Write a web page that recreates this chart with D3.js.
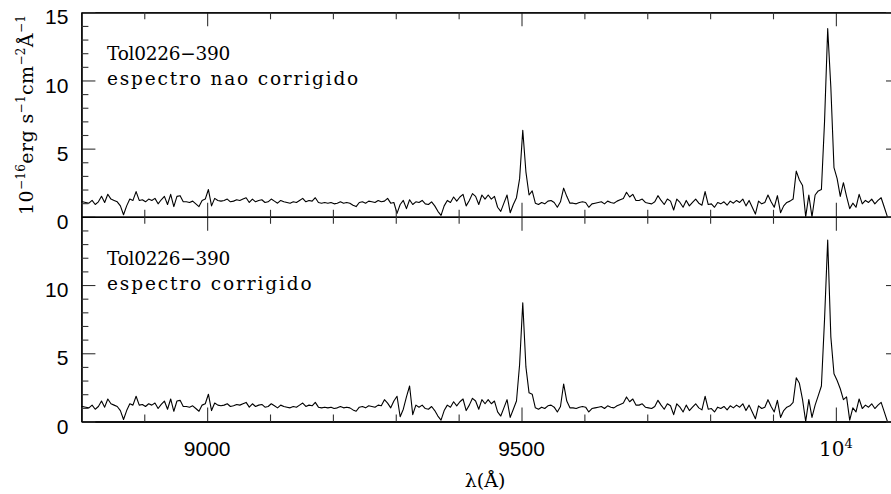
<!DOCTYPE html>
<html><head><meta charset="utf-8">
<script src="https://cdn.jsdelivr.net/npm/d3@7"></script>
<style>body{margin:0;background:#fff;} svg{display:block;}</style>
</head><body><svg id="chart" width="891" height="494"></svg>
<script>
// ---- data ----
const lambdaStart = 8797;   // Å, first sample
const lambdaStep = 5;       // Å between samples
const fluxCorrected = [
1.1,1.1,1.05,1.0,1.2,0.9,1.1,1.5,1.05,1.65,
1.3,1.2,1.1,0.8,0.15,0.8,1.3,1.2,1.85,1.2,
1.25,1.1,1.3,1.2,1.35,0.95,1.25,1.5,0.9,1.65,
0.75,1.5,1.55,1.1,1.1,1.05,1.15,0.95,0.75,1.2,
1.3,2.0,0.8,1.35,1.2,1.15,1.2,1.3,1.1,1.15,
1.25,1.2,1.3,1.4,1.05,1.3,1.1,1.2,1.25,1.05,
1.1,1.3,1.15,1.0,1.2,1.1,1.05,1.0,1.1,1.05,
1.2,1.35,1.1,1.2,1.15,1.4,1.05,1.0,1.05,1.0,
1.05,0.95,1.0,1.1,1.0,1.05,1.0,0.85,0.75,1.05,
1.1,1.0,1.15,1.1,1.05,1.2,1.15,1.6,1.35,1.0,
1.5,1.85,0.35,0.9,1.8,2.6,0.5,1.2,1.05,1.2,
0.95,0.9,1.1,0.8,0.4,0.1,0.8,1.2,1.05,1.45,
1.15,1.45,1.65,0.8,1.2,1.7,1.5,0.9,1.6,1.3,
1.6,1.3,1.5,0.7,0.4,1.0,1.6,0.3,0.9,1.5,
4.2,8.7,4.0,2.1,2.0,1.0,0.9,1.05,0.95,1.15,
1.2,1.05,0.7,1.1,2.75,1.5,1.0,1.0,0.95,1.05,
1.1,1.05,0.7,0.95,1.0,1.05,1.1,0.95,1.15,1.05,
1.0,1.15,1.25,1.35,1.8,1.45,1.65,1.2,1.2,1.3,
1.05,1.0,0.95,1.1,1.55,1.2,0.9,1.3,1.15,0.5,
1.3,1.05,0.7,1.2,0.8,1.05,1.3,1.0,0.85,1.85,
0.9,0.95,0.7,1.05,0.95,1.1,0.85,1.15,1.0,1.2,
1.05,1.3,0.8,1.2,0.7,0.2,1.15,0.95,1.05,1.6,
1.1,0.7,1.55,0.3,0.8,1.05,1.15,1.4,3.2,2.8,
1.6,0.0,1.6,0.3,1.2,1.9,2.6,7.5,13.3,6.2,
3.5,3.0,2.4,1.6,1.8,0.1,1.0,0.7,1.65,0.95,
1.2,1.05,1.3,0.95,1.2,1.4,0.7,0.0
];
const fluxUncorrected = [
1.1,1.1,1.05,1.0,1.2,0.9,1.1,1.5,1.05,1.65,
1.3,1.2,1.1,0.8,0.15,0.8,1.3,1.2,1.85,1.2,
1.25,1.1,1.3,1.2,1.35,0.95,1.25,1.5,0.9,1.65,
0.75,1.5,1.55,1.1,1.1,1.05,1.15,0.95,0.75,1.2,
1.3,2.0,0.8,1.35,1.2,1.15,1.2,1.3,1.1,1.15,
1.25,1.2,1.3,1.4,1.05,1.3,1.1,1.2,1.25,1.05,
1.1,1.3,1.15,1.0,1.2,1.1,1.05,1.0,1.1,1.05,
1.2,1.35,1.1,1.2,1.15,1.4,1.05,1.0,1.05,1.0,
1.05,0.95,1.0,1.1,1.0,1.05,1.0,0.85,0.75,1.05,
1.1,1.0,1.15,1.1,1.05,1.2,1.1,1.15,1.35,1.0,
1.05,0.25,0.9,1.2,0.6,1.25,0.9,1.1,1.05,1.2,
0.95,0.9,1.1,0.8,0.4,0.1,0.8,1.2,1.05,1.45,
1.15,1.45,1.65,0.8,1.2,1.7,1.5,0.9,1.6,1.3,
1.6,1.3,1.5,0.7,0.4,1.0,1.6,0.3,0.9,1.4,
2.8,6.35,3.3,1.6,1.9,1.0,0.9,1.05,0.95,1.15,
1.2,1.05,0.7,1.1,2.1,1.5,1.0,1.0,0.95,1.05,
1.1,1.05,0.7,0.95,1.0,1.05,1.1,0.95,1.15,1.05,
1.0,1.15,1.25,1.35,1.8,1.45,1.65,1.2,1.2,1.3,
1.05,1.0,0.95,1.1,1.55,1.2,0.9,1.3,1.15,0.5,
1.3,1.05,0.7,1.2,0.8,1.05,1.3,1.0,0.85,1.85,
0.9,0.95,0.7,1.05,0.95,1.1,0.85,1.15,1.0,1.2,
1.05,1.3,0.8,1.2,0.7,0.2,1.15,0.95,1.05,1.6,
1.1,0.7,1.55,0.3,0.8,1.05,1.15,1.3,3.35,2.7,
2.3,0.0,1.6,0.0,1.6,1.9,2.0,7.0,13.8,9.5,
3.6,2.8,1.5,2.5,1.5,0.6,1.0,0.7,1.65,0.95,
1.2,1.05,1.3,0.95,1.2,1.4,0.7,0.0
];
const panelTitles = [
  ["Tol0226\u2212390", "espectro nao corrigido"],
  ["Tol0226\u2212390", "espectro corrigido"]
];
const xMajorTicks = [9000, 9500, 10000];
const xTickLabels = ["9000", "9500", "10^4"];
const yMajorTicks = [0, 5, 10, 15];
const yTickLabelsTop = ["0", "5", "10", "15"];
const yTickLabelsBottom = ["0", "5", "10"];

// ---- layout ----
const svg = d3.select("#chart");
const X0 = 81.4, X1 = 900;
const yTop = 12.3, yMid = 216.8, yBot = 421.5;
const x = d3.scaleLinear().domain([8800, 10102]).range([X0, X1]);
const panels = [
  {flux: fluxUncorrected, y: d3.scaleLinear().domain([0, 15]).range([yMid, yTop]), labels: yTickLabelsTop, title: panelTitles[0]},
  {flux: fluxCorrected,   y: d3.scaleLinear().domain([0, 15]).range([yBot, yMid]), labels: yTickLabelsBottom, title: panelTitles[1]}
];
const xMinor = d3.range(8900, 10101, 100).filter(v => !xMajorTicks.includes(v));
const yMinor = d3.range(1, 15, 1).filter(v => !yMajorTicks.includes(v));
const sans = "'Liberation Sans', Arial, Helvetica, sans-serif";
const serif = "'DejaVu Serif', serif";
const charWidth = 11.63; // px per character of the panel captions

svg.append("defs").selectAll("clipPath").data(panels).join("clipPath")
  .attr("id", (d, i) => "clip" + i)
  .append("rect")
  .attr("x", X0).attr("width", X1 - X0)
  .attr("y", d => d.y.range()[1]).attr("height", d => d.y.range()[0] - d.y.range()[1]);

const line = (p) => d3.line()
  .x((d, i) => x(lambdaStart + i * lambdaStep))
  .y(d => p.y(d));

function styleAxis(g) {
  g.selectAll(".domain").attr("stroke", "#000").attr("stroke-width", 1.3);
  g.selectAll(".tick line").attr("stroke", "#333").attr("stroke-width", 1.1);
}

panels.forEach((p, pi) => {
  const yb = p.y.range()[0], yt = p.y.range()[1];
  svg.append("path").datum(p.flux)
    .attr("clip-path", `url(#clip${pi})`)
    .attr("fill", "none").attr("stroke", "#000").attr("stroke-width", 1.1)
    .attr("stroke-linejoin", "round")
    .attr("d", line(p));

  [[d3.axisTop, yb], [d3.axisBottom, yt]].forEach(([ax, yy]) => {
    svg.append("g").attr("transform", `translate(0,${yy})`)
      .call(ax(x).tickValues(xMajorTicks).tickSize(14).tickSizeOuter(0).tickFormat(""))
      .call(styleAxis);
    svg.append("g").attr("transform", `translate(0,${yy})`)
      .call(ax(x).tickValues(xMinor).tickSize(7).tickSizeOuter(0).tickFormat(""))
      .call(styleAxis);
  });
  const majors = yMajorTicks.slice(0, p.labels.length);
  svg.append("g").attr("transform", `translate(${X0},0)`)
    .call(d3.axisLeft(p.y).tickValues(majors).tickSizeInner(-14).tickSizeOuter(0).tickPadding(13)
      .tickFormat((d, i) => p.labels[i]))
    .call(styleAxis)
    .call(g => g.selectAll("text").attr("fill", "#000").style("font-family", sans).style("font-size", "21px").attr("dy", "0.55em"));
  svg.append("g").attr("transform", `translate(${X0},0)`)
    .call(d3.axisLeft(p.y).tickValues(yMinor).tickSizeInner(-7).tickSizeOuter(0).tickFormat(""))
    .call(styleAxis);
  svg.append("g").attr("transform", `translate(${X1},0)`)
    .call(d3.axisLeft(p.y).tickValues(yMajorTicks).tickSize(14).tickSizeOuter(0).tickFormat(""))
    .call(styleAxis);
  svg.append("g").attr("transform", `translate(${X1},0)`)
    .call(d3.axisLeft(p.y).tickValues(yMinor).tickSize(7).tickSizeOuter(0).tickFormat(""))
    .call(styleAxis);

  const tg = svg.append("g").style("font-family", serif).style("font-size", "18.5px").attr("fill", "#000");
  p.title.forEach((t, k) => {
    tg.append("text").attr("x", 107).attr("y", yt + 48 + k * 25)
      .attr("textLength", (t.length - 0.4) * charWidth).attr("lengthAdjust", "spacing")
      .text(t);
  });
});

const xl = svg.append("g");
xMajorTicks.forEach((v, i) => {
  const lab = xTickLabels[i];
  if (lab.includes("^")) {
    const [base, sup] = lab.split("^");
    const t = xl.append("text").attr("x", x(v)).attr("y", 456).attr("text-anchor", "middle")
      .style("font-family", serif).style("font-size", "20px");
    t.append("tspan").text(base);
    t.append("tspan").attr("dy", -8).style("font-size", "13px").text(sup);
  } else {
    xl.append("text").attr("x", x(v)).attr("y", 456).attr("text-anchor", "middle")
      .style("font-family", sans).style("font-size", "21px").text(lab);
  }
});

svg.append("text").attr("x", 485).attr("y", 487).attr("text-anchor", "middle")
  .style("font-family", serif).style("font-size", "19px").text("\u03bb(\u00c5)");

const yl = svg.append("text").attr("transform", "translate(33,115) rotate(-90)")
  .attr("text-anchor", "middle").style("font-family", serif).style("font-size", "19px")
  .attr("textLength", 200).attr("lengthAdjust", "spacing");
[["10", 0], ["\u221216", 1], ["erg s", 0], ["\u22121", 1], ["cm", 0], ["\u22122", 1], ["\u00c5", 0], ["\u22121", 1]]
  .reduce((prev, [s, sup]) => {
    const ts = yl.append("tspan").text(s);
    if (sup) { ts.attr("dy", prev ? 0 : -8).style("font-size", "12px"); }
    else { ts.attr("dy", prev ? 8 : 0); }
    return sup;
  }, 0);
</script></body></html>
